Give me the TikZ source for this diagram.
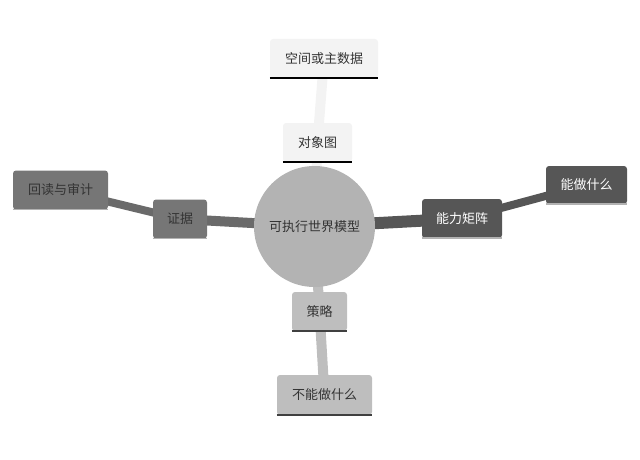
\documentclass[tikz,border=0pt]{standalone}
\usepackage{fontspec}
\setmainfont{Noto Sans CJK SC}
\usetikzlibrary{backgrounds}
\definecolor{lightbox}{HTML}{F3F3F3}
\definecolor{midbox}{HTML}{767676}
\definecolor{darkbox}{HTML}{565656}
\definecolor{palebox}{HTML}{BEBEBE}
\definecolor{centerfill}{HTML}{B3B3B3}
\definecolor{txt}{HTML}{333333}
\tikzset{
  box/.style={rectangle, rounded corners=3pt, minimum height=39pt, inner sep=0pt, font=\fontsize{13}{15}\selectfont, text=txt},
  lightnode/.style={box, fill=lightbox},
  midnode/.style={box, fill=midbox},
  darknode/.style={box, fill=darkbox, text=white},
  palenode/.style={box, fill=palebox},
  link/.style={line cap=butt},
  underline/.style={line width=2.5pt},
}
\begin{document}
\begin{tikzpicture}[x=1pt,y=-1pt]
\useasboundingbox (0,0) rectangle (640,460);
\node[circle, fill=centerfill, minimum size=121pt, inner sep=0pt, font=\fontsize{13}{15}\selectfont, text=txt] (c) at (314.5,226.5) {可执行世界模型};
\node[lightnode, minimum width=108pt] (kj) at (324,58.5) {空间或主数据};
\node[lightnode, minimum width=69pt] (dx) at (317.5,142.5) {对象图};
\node[midnode, minimum width=95pt] (hd) at (60.5,190) {回读与审计};
\node[midnode, minimum width=54pt] (zj) at (180,219) {证据};
\node[darknode, minimum width=80pt] (nl) at (462,218.5) {能力矩阵};
\node[darknode, minimum width=81pt, minimum height=38pt] (nz) at (586.5,185) {能做什么};
\node[palenode, minimum width=55pt] (cl) at (319.5,311.5) {策略};
\node[palenode, minimum width=95pt, minimum height=40pt] (bn) at (324.5,395) {不能做什么};
\draw[underline, black] (kj.south west) -- (kj.south east);
\draw[underline, black] (dx.south west) -- (dx.south east);
\draw[underline, black!75] (cl.south west) -- (cl.south east);
\draw[underline, black!75] (bn.south west) -- (bn.south east);
\draw[line width=1.5pt, white!70!black] (zj.south west) -- (zj.south east);
\draw[line width=1.5pt, white!70!black] (hd.south west) -- (hd.south east);
\draw[line width=1.5pt, white!70!black] (nl.south west) -- (nl.south east);
\draw[line width=1.5pt, white!70!black] (nz.south west) -- (nz.south east);
\begin{pgfonlayer}{background}
\draw[link, line width=10pt, lightbox] (dx.center) -- (kj.center);
\draw[link, line width=10pt, lightbox] (c.center) -- (dx.center);
\draw[link, line width=10pt, midbox!90!black] (c.center) -- (zj.center);
\draw[link, line width=8pt, midbox!90!black] (zj.center) -- (hd.center);
\draw[link, line width=12pt, darkbox] (c.center) -- (nl.center);
\draw[link, line width=8pt, darkbox] (nl.center) -- (nz.center);
\draw[link, line width=10pt, palebox] (c.center) -- (cl.center);
\draw[link, line width=10pt, palebox] (cl.center) -- (bn.center);
\end{pgfonlayer}
\end{tikzpicture}
\end{document}
